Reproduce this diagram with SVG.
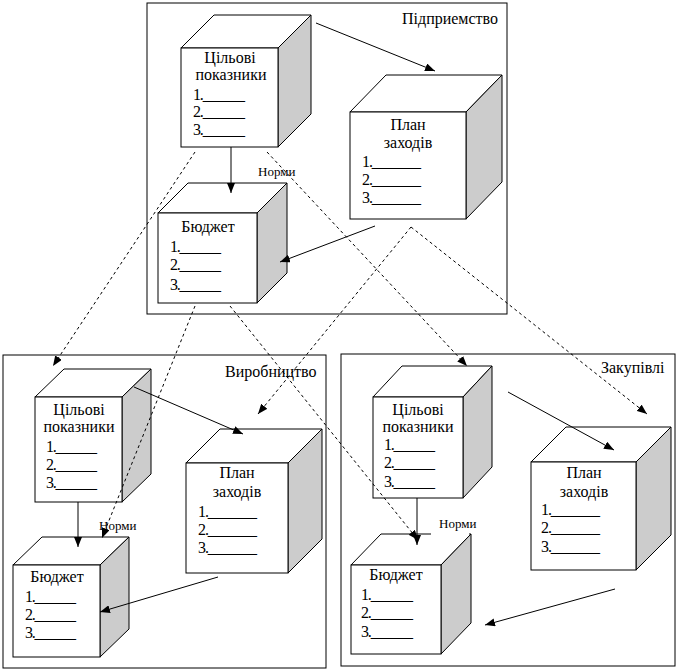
<svg xmlns="http://www.w3.org/2000/svg" width="679" height="672" viewBox="0 0 679 672">
<style>
.frame{fill:#fff;stroke:#000;stroke-width:1}
.face{fill:#fff;stroke:#000;stroke-width:1}
.side{fill:#cccccc;stroke:#000;stroke-width:1}
text{font-family:"Liberation Serif","Times New Roman",serif;font-size:16px;fill:#000}
.t{text-anchor:middle}
.lbl{font-size:16px}
.nm{font-size:13px}
.sol{fill:none;stroke:#000;stroke-width:1}
.dsh{fill:none;stroke:#000;stroke-width:1;stroke-dasharray:3,3}
</style>
<defs>
<marker id="ah" markerUnits="userSpaceOnUse" markerWidth="10" markerHeight="8" refX="10" refY="4" orient="auto">
<path d="M0,0 L10,4 L0,8 z" fill="#000"/>
</marker>
</defs>
<rect width="679" height="672" fill="#fff"/>
<g id="frames">
<rect id="frame-enterprise" class="frame" x="147" y="3" width="360" height="311"/>
<rect id="frame-production" class="frame" x="3" y="355" width="323" height="313"/>
<rect id="frame-purchasing" class="frame" x="341" y="354" width="334" height="312"/>
<text class="lbl" x="402" y="24">Підприемство</text>
<text class="lbl" x="225" y="377">Виробництво</text>
<text class="lbl" x="601" y="373">Закупівлі</text>
</g>

<g id="top-targets">
<polygon class="face" points="181,48 214,15 311,15 278,48"/>
<polygon class="side" points="278,48 311,15 311,114 278,147"/>
<rect class="face" x="181" y="48" width="97" height="99"/>
<text class="t" x="230" y="63">Цільові</text>
<text class="t" x="231" y="80">показники</text>
<text x="193" y="100" textLength="52">1.______</text>
<text x="193" y="117" textLength="52">2.______</text>
<text x="193" y="135" textLength="52">3.______</text>
</g>
<g id="top-plan">
<polygon class="face" points="350,112 386,75 502,75 466,112"/>
<polygon class="side" points="466,112 502,75 502,182 466,219"/>
<rect class="face" x="350" y="112" width="116" height="107"/>
<text class="t" x="408" y="130">План</text>
<text class="t" x="408" y="148">заходів</text>
<text x="362" y="167" textLength="59">1._______</text>
<text x="362" y="185" textLength="59">2._______</text>
<text x="362" y="203" textLength="59">3._______</text>
</g>
<g id="top-budget">
<polygon class="face" points="158,213 188,183 287,183 257,213"/>
<polygon class="side" points="257,213 287,183 287,273 257,303"/>
<rect class="face" x="158" y="213" width="99" height="90"/>
<text class="t" x="208" y="232">Бюджет</text>
<text x="170" y="252" textLength="51">1.______</text>
<text x="170" y="270" textLength="51">2.______</text>
<text x="170" y="290" textLength="51">3.______</text>
</g>

<g id="prod-targets">
<polygon class="face" points="35,397 64,369 151,369 122,397"/>
<polygon class="side" points="122,397 151,369 151,474 122,502"/>
<rect class="face" x="35" y="397" width="87" height="105"/>
<text class="t" x="79" y="415">Цільові</text>
<text class="t" x="79" y="432">показники</text>
<text x="46" y="452" textLength="51">1.______</text>
<text x="46" y="470" textLength="51">2.______</text>
<text x="46" y="488" textLength="51">3.______</text>
</g>
<g id="prod-plan">
<polygon class="face" points="186,463 220,429 322,429 288,463"/>
<polygon class="side" points="288,463 322,429 322,539 288,573"/>
<rect class="face" x="186" y="463" width="102" height="110"/>
<text class="t" x="237" y="478">План</text>
<text class="t" x="237" y="497">заходів</text>
<text x="198" y="517" textLength="59">1._______</text>
<text x="198" y="535" textLength="59">2._______</text>
<text x="198" y="553" textLength="59">3._______</text>
</g>
<g id="prod-budget">
<polygon class="face" points="13,565 42,537 129,537 100,565"/>
<polygon class="side" points="100,565 129,537 129,629 100,657"/>
<rect class="face" x="13" y="565" width="87" height="92"/>
<text class="t" x="57" y="582">Бюджет</text>
<text x="25" y="602" textLength="51">1.______</text>
<text x="25" y="620" textLength="51">2.______</text>
<text x="25" y="638" textLength="51">3.______</text>
</g>

<g id="purch-targets">
<polygon class="face" points="373,397 402,366 492,366 463,397"/>
<polygon class="side" points="463,397 492,366 492,467 463,498"/>
<rect class="face" x="373" y="397" width="90" height="101"/>
<text class="t" x="418" y="415">Цільові</text>
<text class="t" x="418" y="432">показники</text>
<text x="384" y="450" textLength="51">1.______</text>
<text x="384" y="468" textLength="51">2.______</text>
<text x="384" y="487" textLength="51">3.______</text>
</g>
<g id="purch-plan">
<polygon class="face" points="531,462 566,427 671,427 636,462"/>
<polygon class="side" points="636,462 671,427 671,535 636,570"/>
<rect class="face" x="531" y="462" width="105" height="108"/>
<text class="t" x="584" y="478">План</text>
<text class="t" x="584" y="497">заходів</text>
<text x="541" y="515" textLength="59">1._______</text>
<text x="541" y="533" textLength="59">2._______</text>
<text x="541" y="552" textLength="59">3._______</text>
</g>
<g id="purch-budget">
<polygon class="face" points="351,565 381,534 471,534 441,565"/>
<polygon class="side" points="441,565 471,534 471,623 441,654"/>
<rect class="face" x="351" y="565" width="90" height="89"/>
<text class="t" x="396" y="580">Бюджет</text>
<text x="361" y="600" textLength="52">1.______</text>
<text x="361" y="618" textLength="52">2.______</text>
<text x="361" y="637" textLength="52">3.______</text>
</g>

<g id="labels">
<text class="nm" x="258" y="176">Норми</text>
<text class="nm" x="99" y="530">Норми</text>
<rect x="431" y="514" width="38" height="22" fill="#fff"/>
<text class="nm" x="439" y="528">Норми</text>
</g>

<g id="connectors">
<line class="sol" x1="316" y1="23" x2="435" y2="71" marker-end="url(#ah)"/>
<line class="sol" x1="231" y1="147" x2="231" y2="193" marker-end="url(#ah)"/>
<line class="sol" x1="375" y1="226" x2="280" y2="262" marker-end="url(#ah)"/>
<line class="dsh" x1="195" y1="152" x2="53" y2="366" marker-end="url(#ah)"/>
<line class="dsh" x1="267" y1="152" x2="467" y2="366" marker-end="url(#ah)"/>
<line class="dsh" x1="411" y1="227" x2="258" y2="414" marker-end="url(#ah)"/>
<line class="dsh" x1="411" y1="227" x2="647" y2="414" marker-end="url(#ah)"/>
<line class="dsh" x1="195" y1="306" x2="102" y2="538" marker-end="url(#ah)"/>
<line class="dsh" x1="230" y1="306" x2="418" y2="540" marker-end="url(#ah)"/>
<line class="sol" x1="134" y1="387" x2="243" y2="434" marker-end="url(#ah)"/>
<line class="sol" x1="78" y1="502" x2="78" y2="547" marker-end="url(#ah)"/>
<line class="sol" x1="218" y1="577" x2="100" y2="612" marker-end="url(#ah)"/>
<line class="sol" x1="508" y1="392" x2="614" y2="450" marker-end="url(#ah)"/>
<line class="sol" x1="417" y1="498" x2="417" y2="545" marker-end="url(#ah)"/>
<line class="sol" x1="615" y1="589" x2="485" y2="625" marker-end="url(#ah)"/>
</g>
</svg>
